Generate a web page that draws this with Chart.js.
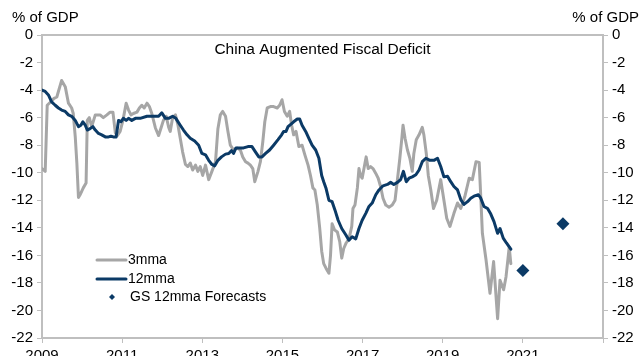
<!DOCTYPE html>
<html>
<head>
<meta charset="utf-8">
<script src="https://cdn.jsdelivr.net/npm/chart.js@4.4.1/dist/chart.umd.min.js"></script>
<style>
  html, body { margin: 0; padding: 0; background: #fff; overflow: hidden; }
</style>
</head>
<body>
<canvas id="myChart" width="641" height="356"></canvas>
<script>
// 3 month moving average (year, % of GDP)
const mma3Years = [
  2009.00, 2009.08, 2009.13, 2009.20, 2009.30, 2009.37, 2009.49, 2009.58, 2009.66, 2009.74,
  2009.78, 2009.83, 2009.87, 2009.91, 2009.95, 2010.03, 2010.10, 2010.13, 2010.18, 2010.24,
  2010.33, 2010.45, 2010.53, 2010.62, 2010.70, 2010.77, 2010.83, 2010.88, 2010.95, 2011.02,
  2011.10, 2011.16, 2011.22, 2011.28, 2011.37, 2011.43, 2011.49, 2011.55, 2011.62, 2011.68,
  2011.74, 2011.83, 2011.91, 2011.97, 2012.03, 2012.10, 2012.16, 2012.20, 2012.26, 2012.33,
  2012.39, 2012.45, 2012.51, 2012.58, 2012.64, 2012.70, 2012.76, 2012.83, 2012.89, 2012.95,
  2013.01, 2013.08, 2013.16, 2013.24, 2013.33, 2013.39, 2013.45, 2013.51, 2013.58, 2013.64,
  2013.70, 2013.78, 2013.87, 2013.95, 2014.01, 2014.08, 2014.14, 2014.20, 2014.26, 2014.31,
  2014.39, 2014.45, 2014.51, 2014.56, 2014.62, 2014.70, 2014.78, 2014.87, 2014.93, 2014.99,
  2015.05, 2015.12, 2015.18, 2015.23, 2015.28, 2015.34, 2015.41, 2015.49, 2015.56, 2015.64,
  2015.70, 2015.76, 2015.81, 2015.87, 2015.93, 2015.98, 2016.03, 2016.09, 2016.16, 2016.20,
  2016.24, 2016.30, 2016.37, 2016.43, 2016.48, 2016.53, 2016.59, 2016.66, 2016.73, 2016.76,
  2016.81, 2016.87, 2016.91, 2016.95, 2016.99, 2017.05, 2017.09, 2017.14, 2017.20, 2017.26,
  2017.33, 2017.39, 2017.45, 2017.51, 2017.58, 2017.66, 2017.74, 2017.81, 2017.87, 2017.93,
  2017.98, 2018.01, 2018.06, 2018.12, 2018.18, 2018.24, 2018.28, 2018.34, 2018.41, 2018.49,
  2018.53, 2018.59, 2018.64, 2018.70, 2018.77, 2018.85, 2018.95, 2019.03, 2019.10, 2019.18,
  2019.28, 2019.37, 2019.45, 2019.55, 2019.66, 2019.74, 2019.83, 2019.91, 2019.95, 2019.99,
  2020.08, 2020.18, 2020.27, 2020.37, 2020.43, 2020.52, 2020.58, 2020.66, 2020.70
];
const mma3Values = [
  -9.7, -9.9, -5.1, -4.9, -4.6, -4.5, -3.3, -3.75, -4.95, -5.3,
  -5.7, -7.4, -9.3, -11.8, -11.6, -11.1, -10.75, -6.2, -6.0, -6.65,
  -5.8, -5.8, -6.0, -5.8, -5.6, -5.6, -7.1, -7.3, -7.0, -6.2,
  -4.95, -5.45, -5.8, -5.7, -5.6, -5.3, -5.1, -5.3, -4.95, -5.2,
  -5.7, -6.75, -7.3, -6.75, -6.2, -5.9, -6.7, -7.0, -6.0, -5.8,
  -6.5, -7.5, -8.5, -9.4, -9.55, -9.3, -9.8, -9.45, -9.9, -9.55,
  -10.2, -9.45, -10.5, -9.9, -9.2, -6.8, -5.8, -5.55, -5.9, -7.0,
  -8.0, -8.35, -8.2, -8.35, -8.85, -9.2, -9.3, -9.45, -9.7, -10.65,
  -9.9, -9.2, -7.75, -6.3, -5.3, -5.2, -5.2, -5.3, -5.1, -4.7,
  -5.55, -5.9, -5.55, -6.55, -7.25, -7.0, -8.1, -8.0, -8.7, -9.45,
  -10.2, -11.1, -11.25, -12.35, -14.0, -15.7, -16.6, -16.95, -17.3, -16.0,
  -13.7, -14.15, -14.3, -15.0, -16.2, -15.5, -15.1, -14.8, -13.9, -12.6,
  -12.35, -11.1, -9.7, -10.2, -10.4, -9.45, -8.85, -9.7, -9.55, -9.7,
  -10.05, -10.4, -11.0, -11.85, -12.35, -12.5, -12.35, -12.0, -10.5, -8.95,
  -7.5, -6.55, -7.5, -8.35, -8.95, -9.9, -8.6, -7.6, -7.25, -6.7,
  -7.25, -8.6, -10.2, -11.2, -12.6, -12.0, -10.5, -12.0, -13.3, -13.9,
  -12.95, -12.2, -12.6, -11.75, -10.4, -10.5, -9.2, -9.25, -11.75, -14.4,
  -16.3, -18.75, -16.45, -20.6, -17.8, -18.5, -17.55, -15.4, -16.6
];

// 12 month moving average (year, % of GDP)
const mma12Years = [
  2009.00, 2009.08, 2009.16, 2009.24, 2009.33, 2009.41, 2009.49, 2009.58, 2009.66, 2009.74,
  2009.83, 2009.91, 2009.97, 2010.02, 2010.08, 2010.13, 2010.20, 2010.27, 2010.33, 2010.41,
  2010.49, 2010.58, 2010.66, 2010.72, 2010.78, 2010.85, 2010.91, 2010.97, 2011.03, 2011.10,
  2011.16, 2011.24, 2011.33, 2011.45, 2011.62, 2011.78, 2011.91, 2011.99, 2012.08, 2012.16,
  2012.26, 2012.34, 2012.45, 2012.53, 2012.62, 2012.70, 2012.81, 2012.91, 2012.99, 2013.08,
  2013.16, 2013.24, 2013.31, 2013.39, 2013.48, 2013.58, 2013.66, 2013.73, 2013.78, 2013.84,
  2013.93, 2014.03, 2014.14, 2014.24, 2014.33, 2014.41, 2014.49, 2014.58, 2014.68, 2014.78,
  2014.89, 2014.98, 2015.03, 2015.09, 2015.14, 2015.20, 2015.28, 2015.37, 2015.43, 2015.49,
  2015.58, 2015.66, 2015.74, 2015.83, 2015.91, 2015.98, 2016.03, 2016.09, 2016.16, 2016.24,
  2016.31, 2016.39, 2016.48, 2016.58, 2016.66, 2016.74, 2016.83, 2016.91, 2016.99, 2017.08,
  2017.16, 2017.24, 2017.33, 2017.41, 2017.51, 2017.62, 2017.70, 2017.78, 2017.87, 2017.95,
  2018.02, 2018.09, 2018.16, 2018.24, 2018.33, 2018.41, 2018.49, 2018.58, 2018.68, 2018.78,
  2018.87, 2018.95, 2019.03, 2019.12, 2019.20, 2019.28, 2019.37, 2019.45, 2019.53, 2019.62,
  2019.70, 2019.78, 2019.89, 2019.95, 2020.03, 2020.12, 2020.20, 2020.28, 2020.37, 2020.43,
  2020.51, 2020.59, 2020.70
];
const mma12Values = [
  -4.0, -4.1, -4.35, -4.85, -5.1, -5.3, -5.45, -5.55, -5.8, -5.9,
  -6.2, -6.65, -6.55, -6.3, -6.55, -6.9, -6.8, -6.65, -6.9, -7.15,
  -7.25, -7.4, -7.4, -7.35, -7.4, -7.4, -6.2, -6.3, -6.05, -6.2,
  -6.05, -6.2, -6.05, -6.05, -5.9, -5.9, -5.9, -5.65, -6.05, -6.05,
  -5.9, -6.05, -6.55, -6.9, -7.25, -7.5, -7.7, -8.0, -8.6, -8.7,
  -9.1, -9.4, -9.5, -9.1, -8.85, -8.65, -8.6, -8.4, -8.6, -8.2,
  -8.2, -8.2, -8.1, -8.1, -8.5, -8.85, -8.85, -8.6, -8.35, -8.0,
  -7.6, -7.25, -7.0, -7.0, -6.65, -6.5, -6.3, -6.1, -6.1, -6.55,
  -7.0, -7.5, -8.0, -8.35, -8.95, -10.2, -10.65, -11.15, -12.0, -12.1,
  -12.7, -13.45, -14.05, -14.5, -14.9, -14.65, -14.8, -14.05, -13.45, -12.95,
  -12.45, -12.2, -11.6, -11.25, -10.95, -10.85, -10.7, -10.85, -10.7, -10.5,
  -9.9, -10.65, -10.4, -10.3, -10.15, -9.8, -9.2, -8.95, -9.1, -9.1,
  -8.95, -9.55, -10.3, -10.25, -10.65, -11.0, -11.25, -11.95, -12.3, -12.1,
  -11.85, -11.7, -11.6, -11.85, -12.45, -12.6, -13.0, -13.55, -14.4, -14.05,
  -14.75, -15.1, -15.55
];

// GS forecasts of the 12mma
const forecastYears = [2021, 2022];
const forecastValues = [-17.1, -13.7];

// axis ticks
const xTickYears = [2009, 2011, 2013, 2015, 2017, 2019, 2021];
const yMin = -22, yMax = 0, yStep = 2;

const navy = '#0b3a66';
const grey = '#a6a6a6';
const axisColor = '#bfbfbf';
const fontFamily = '"Liberation Sans", Arial, sans-serif';

function toPoints(xs, ys) {
    return xs.map((x, i) => ({ x: x, y: ys[i] }));
}

// texts and the in-plot legend
const decorations = {
    id: 'decorations',
    afterDraw(chart) {
        const c = chart.ctx;
        const area = chart.chartArea;
        c.save();
        c.fillStyle = '#000';
        c.textBaseline = 'middle';
        c.font = '15px ' + fontFamily;
        c.textAlign = 'left';
        c.fillText('% of GDP', 12, 18);
        c.textAlign = 'right';
        c.fillText('% of GDP', 639, 18);
        c.font = '15.5px ' + fontFamily;
        c.textAlign = 'center';
        c.fillText('China Augmented Fiscal Deficit', (area.left + area.right) / 2, 50);

        c.font = '14px ' + fontFamily;
        c.textAlign = 'left';
        c.lineCap = 'round';
        const ds = chart.data.datasets;
        // 3mma
        c.strokeStyle = ds[1].borderColor;
        c.lineWidth = 3;
        c.beginPath(); c.moveTo(97, 260); c.lineTo(126, 260); c.stroke();
        c.fillText(ds[1].label, 128, 260);
        // 12mma
        c.strokeStyle = ds[0].borderColor;
        c.beginPath(); c.moveTo(97, 279); c.lineTo(126, 279); c.stroke();
        c.fillText(ds[0].label, 128, 279);
        // forecasts
        c.fillStyle = ds[2].backgroundColor;
        c.beginPath();
        c.moveTo(112, 294); c.lineTo(115, 297); c.lineTo(112, 300); c.lineTo(109, 297);
        c.closePath(); c.fill();
        c.fillStyle = '#000';
        c.fillText(ds[2].label, 130, 297);
        c.restore();
    }
};

function draw_chart() {
    const ctx = document.getElementById('myChart');
    new Chart(ctx, {
        type: 'line',
        data: {
            datasets: [{
                label: '12mma',
                data: toPoints(mma12Years, mma12Values),
                borderColor: navy,
                borderWidth: 3,
                borderJoinStyle: 'round',
                borderCapStyle: 'round',
                pointRadius: 0,
                tension: 0,
                order: 1
            }, {
                label: '3mma',
                data: toPoints(mma3Years, mma3Values),
                borderColor: grey,
                borderWidth: 3,
                borderJoinStyle: 'round',
                borderCapStyle: 'round',
                pointRadius: 0,
                tension: 0,
                order: 2
            }, {
                label: 'GS 12mma Forecasts',
                data: toPoints(forecastYears, forecastValues),
                showLine: false,
                pointStyle: 'rectRot',
                pointRadius: 6.5,
                backgroundColor: navy,
                borderColor: navy,
                borderWidth: 0,
                order: 0
            }]
        },
        options: {
            responsive: false,
            animation: false,
            devicePixelRatio: 1,
            layout: { padding: { top: 35, left: 0, right: 0, bottom: 0 } },
            plugins: {
                legend: { display: false },
                tooltip: { enabled: false }
            },
            scales: {
                x: {
                    type: 'linear',
                    position: 'bottom',
                    min: 2009,
                    max: 2023,
                    afterFit: (s) => { s.height = 18; },
                    border: { display: true, color: axisColor, width: 2 },
                    grid: { display: true, drawOnChartArea: false, color: axisColor, tickLength: 5, lineWidth: 1 },
                    ticks: {
                        stepSize: 2,
                        autoSkip: false,
                        maxRotation: 0,
                        padding: 4,
                        color: '#000',
                        font: { family: fontFamily, size: 15 },
                        callback: (v) => xTickYears.includes(v) ? String(v) : ''
                    }
                },
                xTop: {
                    type: 'linear',
                    position: 'top',
                    min: 2009,
                    max: 2023,
                    afterFit: (s) => { s.height = 0; },
                    border: { display: true, color: axisColor, width: 2 },
                    grid: { display: false, drawTicks: false },
                    ticks: { display: false }
                },
                y: {
                    position: 'left',
                    min: yMin,
                    max: yMax,
                    afterFit: (s) => { s.width = 42; },
                    border: { display: true, color: axisColor, width: 2 },
                    grid: { display: true, drawOnChartArea: false, color: axisColor, tickLength: 5 },
                    ticks: {
                        stepSize: yStep,
                        padding: 4,
                        color: '#000',
                        font: { family: fontFamily, size: 15 }
                    }
                },
                y2: {
                    position: 'right',
                    min: yMin,
                    max: yMax,
                    afterFit: (s) => { s.width = 38; },
                    border: { display: true, color: axisColor, width: 2 },
                    grid: { display: true, drawOnChartArea: false, color: axisColor, tickLength: 5 },
                    ticks: {
                        stepSize: yStep,
                        padding: 4,
                        color: '#000',
                        font: { family: fontFamily, size: 15 }
                    }
                }
            }
        },
        plugins: [decorations]
    });
}
draw_chart();
</script>
</body>
</html>
